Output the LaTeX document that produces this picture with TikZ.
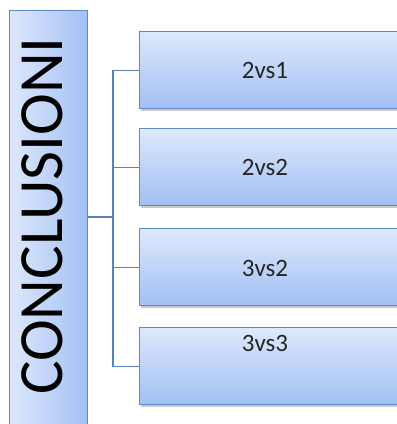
\documentclass[tikz,border=0pt]{standalone}
\usepackage{fontspec}
\setmainfont{Carlito}
\usetikzlibrary{shadows}
\definecolor{boxtop}{HTML}{DDE8FC}
\definecolor{boxbot}{HTML}{A2C0F4}
\definecolor{boxline}{HTML}{5E89C6}
\definecolor{linkcol}{HTML}{5A82B8}
\tikzset{
  leaf/.style={draw=boxline, line width=1.2pt, top color=boxtop, bottom color=boxbot,
    minimum width=272pt, minimum height=77pt, anchor=north west, inner sep=0pt,
    drop shadow={shadow xshift=1.5pt, shadow yshift=-2pt, opacity=0.35, fill=black!60}},
  mainbox/.style={draw=boxline, line width=1.2pt, left color=boxtop, right color=boxbot,
    minimum width=78pt, minimum height=430pt, anchor=north west, inner sep=0pt},
  lbl/.style={font=\fontsize{25}{30}\selectfont, text=black!85},
  link/.style={draw=linkcol, line width=1.1pt}
}
\begin{document}
\begin{tikzpicture}[x=1pt,y=1pt]
\useasboundingbox (0,0) rectangle (397,424);
\fill[white] (0,0) rectangle (397,424);
\node[mainbox] (main) at (9,414) {};
\node[rotate=90, anchor=base, font=\fontsize{63}{70}\selectfont] (title) at (63,208) {CONCLUSIONI};
\node[leaf] (b1) at (139,393) {};
\node[leaf] (b2) at (139,296) {};
\node[leaf] (b3) at (139,196) {};
\node[leaf] (b4) at (139,97) {};
\node[lbl] (t1) at (265,354) {2vs1};
\node[lbl] (t2) at (265,257) {2vs2};
\node[lbl] (t3) at (265,156) {3vs2};
\node[lbl] (t4) at (265,81) {3vs3};
\coordinate (j) at (113,207);
\draw[link] (main.east |- j) -- (j);
\draw[link] (b1.west) -| (j);
\draw[link] (b2.west) -| (j);
\draw[link] (b3.west) -| (j);
\draw[link] (b4.west) -| (j);
\end{tikzpicture}
\end{document}
